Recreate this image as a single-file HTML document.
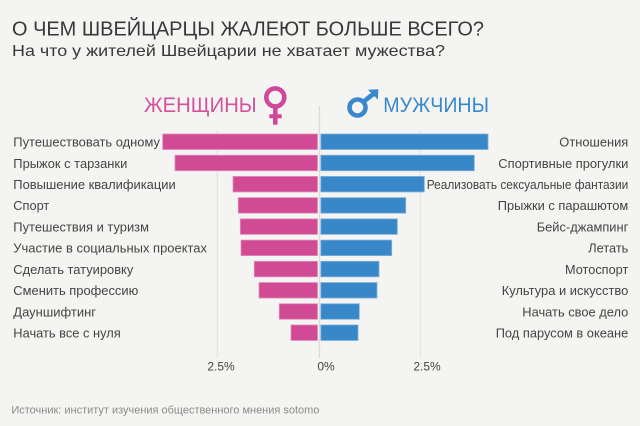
<!DOCTYPE html>
<html>
<head>
<meta charset="utf-8">
<style>
html,body{margin:0;padding:0;background:#f4f4f2;}
svg{display:block;}
text{font-family:"Liberation Sans","DejaVu Sans",sans-serif;}
</style>
</head>
<body>
<svg width="640" height="426" viewBox="0 0 640 426" xmlns="http://www.w3.org/2000/svg">
<rect x="0" y="0" width="640" height="426" fill="#f4f4f2"/>

<text x="12" y="35.7" font-size="20" fill="#383838" textLength="472" lengthAdjust="spacingAndGlyphs">О ЧЕМ ШВЕЙЦАРЦЫ ЖАЛЕЮТ БОЛЬШЕ ВСЕГО?</text>
<text x="12" y="56" font-size="16" fill="#383838" textLength="433" lengthAdjust="spacingAndGlyphs">На что у жителей Швейцарии не хватает мужества?</text>

<text x="144" y="112" font-size="21" fill="#d4529a" textLength="112.7" lengthAdjust="spacingAndGlyphs">ЖЕНЩИНЫ</text>
<text x="383.3" y="112" font-size="21" fill="#3a88cc" textLength="105.7" lengthAdjust="spacingAndGlyphs">МУЖЧИНЫ</text>

<!-- female symbol -->
<g fill="none" stroke="#d0489a" stroke-width="4.6">
<circle cx="275.3" cy="97.4" r="9"/>
<line x1="275.3" y1="106" x2="275.3" y2="124.7"/>
<line x1="269.3" y1="116.3" x2="281.7" y2="116.3" stroke-width="4"/>
</g>
<!-- male symbol -->
<g fill="none" stroke="#3a88cc" stroke-width="4.6">
<circle cx="357.5" cy="107.5" r="8"/>
<line x1="363" y1="102" x2="374" y2="93.5"/>
</g>
<polygon points="368,89.8 378.4,89.2 377.8,99.6" fill="#3a88cc"/>

<!-- grid -->
<line x1="217.3" y1="131" x2="217.3" y2="358" stroke="#e0e0de" stroke-width="1"/>
<line x1="420.3" y1="131" x2="420.3" y2="358" stroke="#e0e0de" stroke-width="1"/>
<line x1="319.4" y1="106" x2="319.4" y2="358" stroke="#dcdcda" stroke-width="1.5"/>

<!-- pink bars -->
<g fill="#d04a94" stroke="#e48cbd" stroke-width="0.8">
<rect x="162.7" y="134" width="154.8" height="15.5"/>
<rect x="175" y="155.22" width="142.5" height="15.5"/>
<rect x="233" y="176.44" width="84.5" height="15.5"/>
<rect x="238.3" y="197.66" width="79.2" height="15.5"/>
<rect x="240.3" y="218.88" width="77.2" height="15.5"/>
<rect x="241" y="240.1" width="76.5" height="15.5"/>
<rect x="254.3" y="261.32" width="63.2" height="15.5"/>
<rect x="259" y="282.54" width="58.5" height="15.5"/>
<rect x="279.3" y="303.76" width="38.2" height="15.5"/>
<rect x="291" y="324.98" width="26.5" height="15.5"/>
</g>

<!-- blue bars -->
<g fill="#3887c8" stroke="#7fb1dc" stroke-width="0.8">
<rect x="320.8" y="134" width="167.2" height="15.5"/>
<rect x="320.8" y="155.22" width="153.5" height="15.5"/>
<rect x="320.8" y="176.44" width="103.5" height="15.5"/>
<rect x="320.8" y="197.66" width="84.9" height="15.5"/>
<rect x="320.8" y="218.88" width="76.5" height="15.5"/>
<rect x="320.8" y="240.1" width="70.9" height="15.5"/>
<rect x="320.8" y="261.32" width="58.2" height="15.5"/>
<rect x="320.8" y="282.54" width="56.2" height="15.5"/>
<rect x="320.8" y="303.76" width="38.5" height="15.5"/>
<rect x="320.8" y="324.98" width="37.2" height="15.5"/>
</g>

<!-- left labels -->
<g font-size="13" fill="#444">
<text x="13.3" y="146.6" textLength="146.7" lengthAdjust="spacingAndGlyphs">Путешествовать одному</text>
<text x="13.3" y="167.8" textLength="114" lengthAdjust="spacingAndGlyphs">Прыжок с тарзанки</text>
<text x="13.3" y="189" textLength="162.4" lengthAdjust="spacingAndGlyphs">Повышение квалификации</text>
<text x="13.3" y="210.2" textLength="36" lengthAdjust="spacingAndGlyphs">Спорт</text>
<text x="13.3" y="231.5" textLength="135.7" lengthAdjust="spacingAndGlyphs">Путешествия и туризм</text>
<text x="13.3" y="252.7" textLength="193.7" lengthAdjust="spacingAndGlyphs">Участие в социальных проектах</text>
<text x="13.3" y="273.9" textLength="120" lengthAdjust="spacingAndGlyphs">Сделать татуировку</text>
<text x="13.3" y="295.1" textLength="125" lengthAdjust="spacingAndGlyphs">Сменить профессию</text>
<text x="13.3" y="316.3" textLength="82.7" lengthAdjust="spacingAndGlyphs">Дауншифтинг</text>
<text x="13.3" y="337.5" textLength="107.4" lengthAdjust="spacingAndGlyphs">Начать все с нуля</text>
</g>

<!-- right labels -->
<g font-size="13" fill="#444" text-anchor="end">
<text x="628.3" y="146.6" textLength="69" lengthAdjust="spacingAndGlyphs">Отношения</text>
<text x="628.3" y="167.8" textLength="130" lengthAdjust="spacingAndGlyphs">Спортивные прогулки</text>
<text x="628.3" y="189" textLength="201.6" lengthAdjust="spacingAndGlyphs">Реализовать сексуальные фантазии</text>
<text x="628.3" y="210.2" textLength="130.6" lengthAdjust="spacingAndGlyphs">Прыжки с парашютом</text>
<text x="628.3" y="231.5" textLength="91.6" lengthAdjust="spacingAndGlyphs">Бейс-джампинг</text>
<text x="628.3" y="252.7" textLength="40" lengthAdjust="spacingAndGlyphs">Летать</text>
<text x="628.3" y="273.9" textLength="63.3" lengthAdjust="spacingAndGlyphs">Мотоспорт</text>
<text x="628.3" y="295.1" textLength="126.6" lengthAdjust="spacingAndGlyphs">Культура и искусство</text>
<text x="628.3" y="316.3" textLength="106" lengthAdjust="spacingAndGlyphs">Начать свое дело</text>
<text x="628.3" y="337.5" textLength="132.6" lengthAdjust="spacingAndGlyphs">Под парусом в океане</text>
</g>

<!-- ticks -->
<g font-size="12" fill="#444" text-anchor="middle" style="font-family:'DejaVu Sans',sans-serif">
<text x="221" y="370.6">2.5%</text>
<text x="326" y="370.6">0%</text>
<text x="427" y="370.6">2.5%</text>
</g>

<text x="11.4" y="413.5" font-size="11" fill="#8a8a8a" textLength="308" lengthAdjust="spacingAndGlyphs">Источник: институт изучения общественного мнения sotomo</text>
</svg>
</body>
</html>
